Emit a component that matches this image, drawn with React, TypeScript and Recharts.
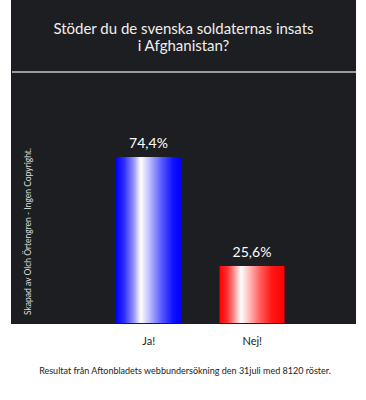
import React from "react";
import { BarChart, Bar, XAxis, YAxis, Cell, LabelList } from "recharts";

const categories = ["Ja!", "Nej!"];
const values = [74.4, 25.6];
const gradientIds = ["gradBlue", "gradRed"];
const titleLines = ["Stöder du de svenska soldaternas insats", "i Afghanistan?"];
const footer = "Resultat från Aftonbladets webbundersökning den 31juli med 8120 röster.";
const sideNote = "Skapad av  Olch Örtengren - Ingen Copyright.";

const data = categories.map((name, i) => ({ name, value: values[i] }));

const FONT = "Lato, 'Open Sans', sans-serif";

const fmt = (v: any) => String(v).replace(".", ",") + "%";

export default function App() {
  return (
    <div style={{ position: "absolute", left: 0, top: 0, width: 366, height: 400, background: "#fff" }}>
      <svg width={0} height={0} style={{ position: "absolute" }}>
        <defs>
          <linearGradient id="gradBlue" x1="0" y1="0" x2="1" y2="0">
            <stop offset="0" stopColor="#0000ff" />
            <stop offset="0.12" stopColor="#2a2aff" />
            <stop offset="0.28" stopColor="#9a9aff" />
            <stop offset="0.38" stopColor="#ffffff" />
            <stop offset="0.5" stopColor="#c4c4ff" />
            <stop offset="0.7" stopColor="#5a5aff" />
            <stop offset="0.88" stopColor="#1010ff" />
            <stop offset="1" stopColor="#0000ff" />
          </linearGradient>
          <linearGradient id="gradRed" x1="0" y1="0" x2="1" y2="0">
            <stop offset="0" stopColor="#ff0000" />
            <stop offset="0.12" stopColor="#ff3030" />
            <stop offset="0.24" stopColor="#ffa0a0" />
            <stop offset="0.33" stopColor="#ffffff" />
            <stop offset="0.45" stopColor="#ffc0c0" />
            <stop offset="0.62" stopColor="#ff6060" />
            <stop offset="0.8" stopColor="#ff1818" />
            <stop offset="1" stopColor="#ff0000" />
          </linearGradient>
        </defs>
      </svg>
      <div style={{ position: "absolute", left: 11, top: 0, width: 345, height: 324, background: "#1d1e22" }} />
      <div style={{ position: "absolute", left: 12, top: 71, width: 344, height: 2, background: "#9a9a9a" }} />
      <div style={{ position: "absolute", left: 0, top: 0 }}>
        <BarChart
          width={366}
          height={400}
          data={data}
          margin={{ top: 100, right: 62, bottom: 47, left: 97 }}
        >
          <XAxis
            dataKey="name"
            height={30}
            axisLine={false}
            tickLine={false}
            tickMargin={8}
            tick={{ fill: "#222", fontSize: 11, fontFamily: FONT }}
          />
          <YAxis hide domain={[0, 100]} />
          <Bar dataKey="value" barSize={65} isAnimationActive={false}>
            {data.map((d, i) => (
              <Cell key={d.name} fill={`url(#${gradientIds[i]})`} />
            ))}
            <LabelList
              dataKey="value"
              position="top"
              offset={9}
              formatter={fmt}
              fill="#ffffff"
              fontSize={14}
              fontFamily={FONT}
            />
          </Bar>
        </BarChart>
      </div>
      <svg width={366} height={400} style={{ position: "absolute", left: 0, top: 0, pointerEvents: "none" }}>
        <text x={183.5} y={34} textAnchor="middle" fill="#eeeeee" fontSize={15} fontFamily={FONT}>
          {titleLines[0]}
        </text>
        <text x={183.5} y={51} textAnchor="middle" fill="#eeeeee" fontSize={15} fontFamily={FONT}>
          {titleLines[1]}
        </text>
        <text
          x={0}
          y={0}
          transform="translate(31 315) rotate(-90)"
          fill="#dddddd"
          fontSize={8.5}
          fontFamily={FONT}
        >
          {sideNote}
        </text>
        <text x={185} y={374} textAnchor="middle" fill="#222" fontSize={9} fontFamily={FONT}>
          {footer}
        </text>
      </svg>
    </div>
  );
}
